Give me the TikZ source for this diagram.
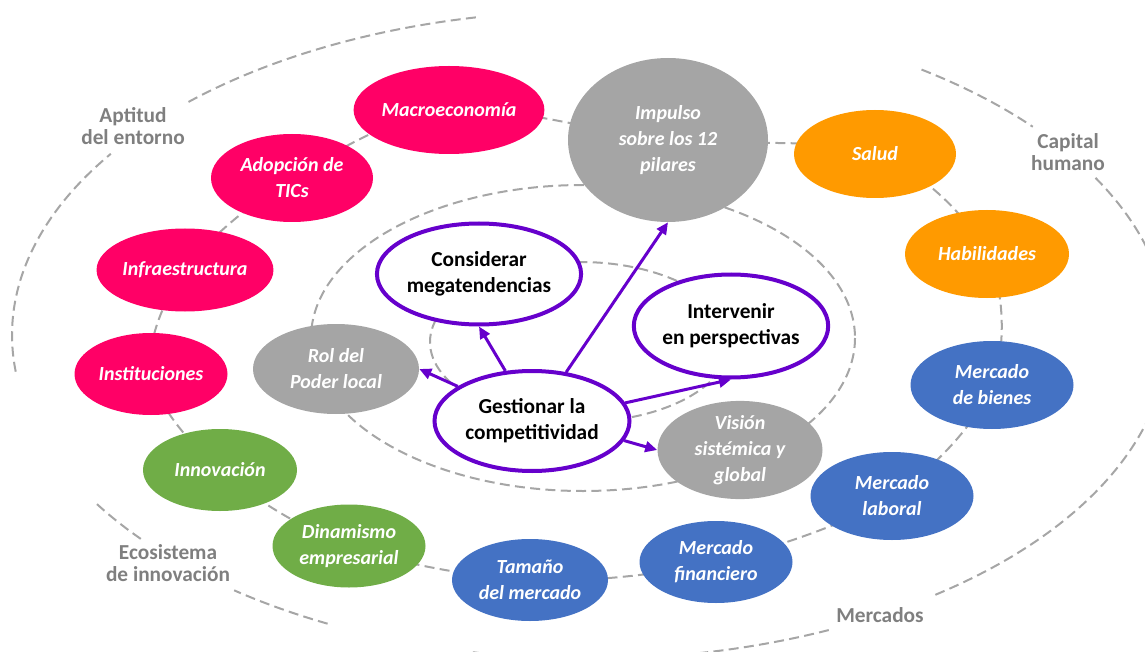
\documentclass[tikz,border=0pt]{standalone}
\usepackage{fontspec}
\setmainfont{Carlito}
\usetikzlibrary{shapes.geometric,arrows.meta,backgrounds}
\definecolor{mag}{HTML}{FF0066}
\definecolor{org}{HTML}{FF9A00}
\definecolor{grn}{HTML}{70AD47}
\definecolor{blu}{HTML}{4472C4}
\definecolor{gry}{HTML}{A5A5A5}
\definecolor{pur}{HTML}{6600CC}
\definecolor{lbl}{HTML}{7F7F7F}
\definecolor{ringc}{HTML}{A6A6A6}
\tikzset{
  sz/.style 2 args={minimum width=#1*0.75pt, minimum height=#2*0.75pt},
  bub/.style={ellipse, inner sep=0pt, align=center, text=white, font=\fontsize{15}{19.5}\selectfont\bfseries\itshape},
  keybox/.style={ellipse, inner sep=0pt, align=center, fill=white, draw=pur, line width=3pt, text=black, font=\fontsize{16}{19.5}\selectfont\bfseries},
  rlabel/.style={align=center, text=lbl, font=\fontsize{16}{16.5}\selectfont\bfseries},
  ringline/.style={draw=ringc, line width=1.5pt, dash pattern=on 7.5pt off 4pt},
  arr/.style={draw=pur, line width=2.25pt, -{Triangle[length=9pt,width=8pt]}}
}
\begin{document}
\begin{tikzpicture}[x=0.75pt,y=-0.75pt]
\useasboundingbox (0,0) rectangle (1145,652);

% colored nodes of the middle ring
\node[bub, fill=mag, sz={158}{88}] (macro) at (449,110) {Macroeconomía};
\node[bub, fill=gry, sz={200}{164}] (imp) at (668,140) {Impulso\\sobre los 12\\pilares};
\node[bub, fill=org, sz={162}{88}] (salud) at (875,154) {Salud};
\node[bub, fill=org, sz={164}{88}] (habil) at (987,254) {Habilidades};
\node[bub, fill=blu, sz={163}{88}] (bienes) at (992,385) {Mercado\\de bienes};
\node[bub, fill=blu, sz={163}{88}] (labor) at (892,496) {Mercado\\laboral};
\node[bub, fill=blu, sz={153}{82}] (finan) at (716,562) {Mercado\\financiero};
\node[bub, fill=blu, sz={156}{82}] (tam) at (530,580) {Tamaño\\del mercado};
\node[bub, fill=grn, sz={153}{83}] (dinam) at (349,546) {Dinamismo\\empresarial};
\node[bub, fill=grn, sz={154}{82}] (innov) at (220,470) {Innovación};
\node[bub, fill=mag, sz={153}{82}] (inst) at (151,374) {Instituciones};
\node[bub, fill=mag, sz={152}{83}] (infra) at (185,270) {Infraestructura};
\node[bub, fill=mag, sz={162}{88}] (adop) at (292,178) {Adopción de\\TICs};

% gray nodes of the inner ring
\node[bub, fill=gry, sz={166}{90}] (rol) at (336,369) {Rol del\\Poder local};
\node[bub, fill=gry, sz={165}{89}] (vis) at (740,450) {Visión\\sistémica y\\global};

% central nodes
\node[keybox, sz={194}{101}] (cons) at (479,274) {Considerar\\megatendencias};
\node[keybox, sz={193}{103}] (interv) at (731,326) {Intervenir\\en perspectivas};
\node[keybox, sz={195}{100}] (gest) at (532,421) {Gestionar la\\competitividad};

% ring labels
\node[rlabel] (lapt) at (133,126) {Aptitud\\del entorno};
\node[rlabel] (lcap) at (1068,152) {Capital\\humano};
\node[rlabel] (leco) at (168,563) {Ecosistema\\de innovación};
\node[rlabel] (lmer) at (880,615) {Mercados};

% arrows
\draw[arr] (gest.118) -- (cons.south);
\draw[arr] (gest.55) -- (imp.south);
\draw[arr] (gest.155) -- (rol.east);
\draw[arr] (gest.11) -- (interv.south);
\draw[arr] (gest.-12) -- (vis.west);

\begin{scope}[on background layer]
\clip (0,0) rectangle (1145,652);
% outer ring, broken around the labels
\foreach \a/\b in {-134/-101, 173.5/214, 141/149, 117/128, 65.6/101.7, -29/53.5, -55/-40}
  \draw[ringline] ([shift={(\a:578 and 324)}]590,335) arc[start angle=\a, end angle=\b, x radius=578, y radius=324];
% inner rings
\draw[ringline] (583,338) ellipse [x radius=272, y radius=153];
\draw[ringline] (580,342) ellipse [x radius=150, y radius=80];
% middle ring through the colored nodes
\draw[ringline] plot[smooth cycle, tension=0.55] coordinates {(macro.center) (imp.center) (salud.center) (habil.center) (bienes.center) (labor.center) (finan.center) (tam.center) (dinam.center) (innov.center) (inst.center) (infra.center) (adop.center)};
\end{scope}
\end{tikzpicture}
\end{document}
